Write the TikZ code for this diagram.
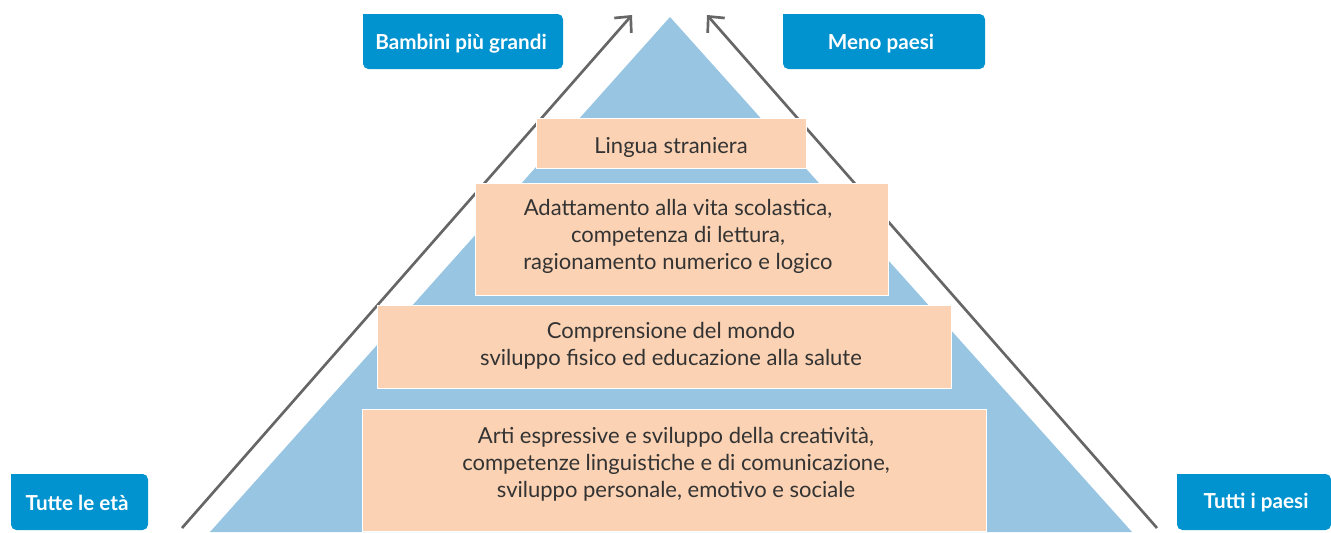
\documentclass[tikz,border=0pt]{standalone}
\usepackage{fontspec}
\setmainfont{Lato}
\usetikzlibrary{arrows.meta}
\definecolor{tri}{HTML}{97C5E2}
\definecolor{peach}{HTML}{FBD2B3}
\definecolor{lab}{HTML}{0093CF}
\definecolor{txt}{HTML}{333333}
\definecolor{arr}{HTML}{666666}
\tikzset{
  px/.style={x=0.75pt,y=-0.75pt},
  levelbox/.style={fill=peach,draw=white,line width=0.4pt,inner sep=0pt},
  leveltext/.style={text=txt,align=center,font=\fontsize{16.5}{20.2}\selectfont,inner sep=0pt},
  tagtext/.style={text=white,font=\bfseries\fontsize{15.5}{18}\selectfont,inner sep=0pt},
  arrowline/.style={draw=arr,line width=2pt,-{Straight Barb[length=9pt,width=17pt,line width=2pt]}}
}
\begin{document}
\begin{tikzpicture}[px]
\useasboundingbox (0,0) rectangle (1331,532);
% triangle
\fill[tri] (670,17) -- (1132,532) -- (210,532) -- cycle;
% arrows
\coordinate (la0) at (182,528);
\coordinate (la1) at (632,15);
\coordinate (ra0) at (1157,528);
\coordinate (ra1) at (707,15);
\draw[arrowline] (la0) -- (la1);
\draw[arrowline] (ra0) -- (ra1);
% levels
\node[levelbox,minimum width=270*0.75pt,minimum height=50*0.75pt] (l1) at (671,143) {};
\node[leveltext] (l1t) at (671,147) {Lingua straniera};
\node[levelbox,minimum width=413*0.75pt,minimum height=112*0.75pt] (l2) at (681.5,239) {};
\node[leveltext] (l2t) at (678,236) {Adattamento alla vita scolastica,\\competenza di lettura,\\ragionamento numerico e logico};
\node[levelbox,minimum width=574*0.75pt,minimum height=83*0.75pt] (l3) at (664,346.5) {};
\node[leveltext] (l3t) at (671,346) {Comprensione del mondo\\sviluppo fisico ed educazione alla salute};
\node[levelbox,minimum width=624*0.75pt,minimum height=122*0.75pt] (l4) at (674,470) {};
\node[leveltext] (l4t) at (676,464) {Arti espressive e sviluppo della creatività,\\competenze linguistiche e di comunicazione,\\sviluppo personale, emotivo e sociale};
% tags
\fill[lab,rounded corners=4pt] (363,14) -- (363,69) -- (563,69) -- (563,14) [sharp corners] -- cycle;
\node[tagtext] (t1) at (461,44) {Bambini più grandi};
\fill[lab,rounded corners=4pt] (783,14) -- (783,69) -- (985,69) -- (985,14) [sharp corners] -- cycle;
\node[tagtext] (t2) at (881,44) {Meno paesi};
\fill[lab,rounded corners=4pt] (11,474) -- (11,530) -- (148,530) -- (148,474) [sharp corners] -- cycle;
\node[tagtext] (t3) at (77,503) {Tutte le età};
\fill[lab,rounded corners=4pt] (1177,474) -- (1177,530) -- (1331,530) -- (1331,474) [sharp corners] -- cycle;
\node[tagtext] (t4) at (1256,503) {Tutti i paesi};
\end{tikzpicture}
\end{document}
